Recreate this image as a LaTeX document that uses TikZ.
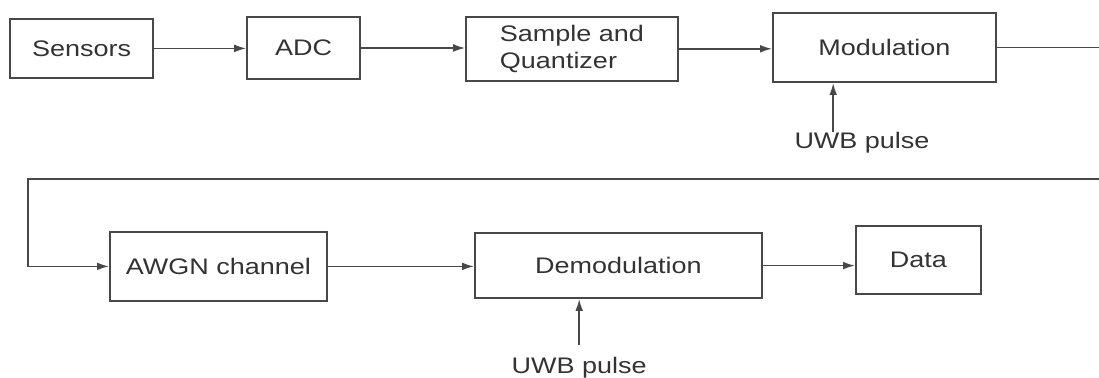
\documentclass[tikz,border=0pt]{standalone}
\usepackage{fontspec}
\setmainfont{Liberation Sans}[FakeStretch=1.2]
\usepackage{tikz}
\usetikzlibrary{arrows.meta}
\definecolor{linegray}{HTML}{484848}
\definecolor{textgray}{HTML}{333333}

\begin{document}
\begin{tikzpicture}[
    block/.style={draw=linegray,line width=1.2pt,text=textgray,inner sep=2pt},
    arr/.style={draw=linegray,line width=1.1pt,-{Latex[length=8.5pt,width=5.5pt]}},
    lbl/.style={text=textgray,inner sep=1pt},
    font=\fontsize{16}{19}\selectfont]
  \useasboundingbox (0,0) rectangle (27.475,9.45);
  \clip (0,0) rectangle (27.475,9.45);
  \node[block,minimum width=3.58cm,minimum height=1.48cm] (sens) at (2.04,8.24) {Sensors};
  \node[block,minimum width=2.83cm,minimum height=1.55cm] (adc) at (7.59,8.25) {ADC};
  \node[block,minimum width=5.3cm,minimum height=1.6cm,align=left] (samp) at (14.3,8.23) {Sample and\\Quantizer};
  \node[block,minimum width=5.58cm,minimum height=1.73cm] (mod) at (22.11,8.26) {Modulation};
  \node[block,minimum width=5.43cm,minimum height=1.73cm] (awgn) at (5.46,2.79) {AWGN channel};
  \node[block,minimum width=7.18cm,minimum height=1.63cm] (demod) at (15.46,2.81) {Demodulation};
  \node[block,minimum width=3.13cm,minimum height=1.7cm] (data) at (22.96,2.95) {Data};
  \node[lbl] (uwbmod) at (21.55,5.88) {UWB pulse};
  \node[lbl] (uwbdemod) at (14.48,0.27) {UWB pulse};
  \coordinate (pmod) at (20.83,6.15); %start of upper pulse arrow
  \coordinate (pdemod) at (14.48,0.83); %start of lower pulse arrow
  \coordinate (turn) at (27.75,4.98);
  \coordinate (loop) at (0.7,4.98);
  \draw[arr] (sens.east) -- (sens.east -| adc.west);
  \draw[arr] (adc.east) -- (adc.east -| samp.west);
  \draw[arr] (samp.east) -- (samp.east -| mod.west);
  \draw[arr] (mod.east) -| (turn) -- (loop) |- (awgn.west); %wraps to second row
  \draw[arr] (awgn.east) -- (awgn.east -| demod.west);
  \draw[arr] (demod.east) -- (demod.east -| data.west);
  \draw[arr] (pmod) -- (pmod |- mod.south);
  \draw[arr] (pdemod) -- (pdemod |- demod.south);
\end{tikzpicture}
\end{document}
